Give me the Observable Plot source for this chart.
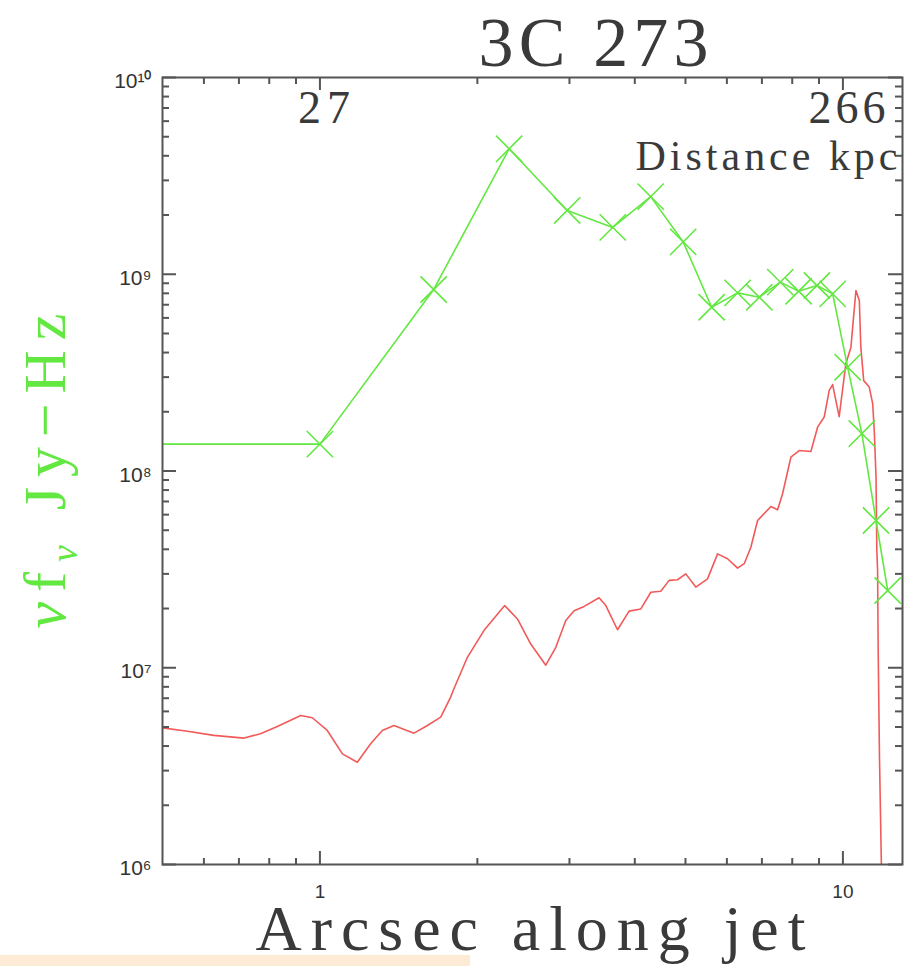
<!DOCTYPE html>
<html><head><meta charset="utf-8">
<script src="https://cdn.jsdelivr.net/npm/d3@7"></script>
<script src="https://cdn.jsdelivr.net/npm/@observablehq/plot@0.6"></script>
<style>html,body{margin:0;padding:0;background:#fff;overflow:hidden}svg{display:block}</style>
</head><body><div id="chart"></div>
<script>
// ---- data ----
const titleText = ["3C 273"];
const xLabelText = ["Arcsec along jet"];
const yLabelText = ["νfν Jy−Hz"];
const topAxisText = ["Distance kpc"];

// green: flux points (arcsec, nu f_nu)
const greenX = [0.3, 1.0, 1.65, 2.30, 2.97, 3.63, 4.29, 4.95, 5.61, 6.29, 6.92, 7.59, 8.23, 8.92, 9.56, 10.21, 10.87, 11.57, 12.18];
const greenY = [1.37e8, 1.37e8, 8.37e8, 4.34e9, 2.11e9, 1.73e9, 2.48e9, 1.46e9, 6.8e8, 8.04e8, 7.64e8, 9.12e8, 8.2e8, 8.77e8, 7.95e8, 3.37e8, 1.55e8, 5.6e7, 2.47e7];

// red: profile along the jet
const redX = [0.500,0.558,0.627,0.716,0.770,0.829,0.919,0.967,1.033,1.104,1.179,1.250,1.316,1.385,1.513,1.605,1.702,1.778,1.804,1.914,2.060,2.256,2.386,2.530,2.703,2.825,2.952,3.062,3.200,3.418,3.521,3.707,3.901,4.108,4.293,4.485,4.653,4.828,5.007,5.233,5.510,5.759,6.018,6.289,6.475,6.668,6.868,7.283,7.501,7.667,7.953,8.249,8.685,8.945,9.209,9.415,9.557,9.837,10.13,10.36,10.48,10.59,10.75,10.82,10.96,11.23,11.40,11.48,11.57,11.61,11.65,11.68,11.75,11.90];
const redY = [4.95e6,4.76e6,4.53e6,4.39e6,4.62e6,5.03e6,5.72e6,5.57e6,4.80e6,3.65e6,3.31e6,4.11e6,4.80e6,5.09e6,4.65e6,5.09e6,5.61e6,7.09e6,7.82e6,1.13e7,1.55e7,2.07e7,1.77e7,1.32e7,1.03e7,1.27e7,1.74e7,1.95e7,2.05e7,2.27e7,2.07e7,1.56e7,1.94e7,1.99e7,2.42e7,2.45e7,2.78e7,2.80e7,3.00e7,2.57e7,2.83e7,3.79e7,3.58e7,3.21e7,3.38e7,4.10e7,5.60e7,6.60e7,6.35e7,7.66e7,1.175e8,1.27e8,1.256e8,1.67e8,1.88e8,2.57e8,2.75e8,1.89e8,3.51e8,4.26e8,6.05e8,8.27e8,7.36e8,4.26e8,2.88e8,2.67e8,2.20e8,1.61e8,9.3e7,3.94e7,3.12e7,1.22e7,3.38e6,5e5];

// ticks
const xMajorTicks = [1, 10];
const xMajorLabels = ["1", "10"];
const xMinorTicks = [0.6, 0.7, 0.8, 0.9, 2, 3, 4, 5, 6, 7, 8, 9];
const kpcTickLabels = ["27", "266"];
const yMajorTicks = [1e6, 1e7, 1e8, 1e9, 1e10];
const yMajorLabels = ["10⁶", "10⁷", "10⁸", "10⁹", "10¹⁰"];
const yDecades = [1e6, 1e7, 1e8, 1e9];
const yMinorMult = [2, 3, 4, 5, 6, 7, 8, 9];

// ---- build tables ----
const green = greenX.map((x, i) => ({x, y: greenY[i]}));
const red = redX.map((x, i) => ({x, y: redY[i]}));
const yMinorTicks = yDecades.flatMap(d => yMinorMult.map(m => d * m));
const xMajor = xMajorTicks.map((x, i) => ({x, label: xMajorLabels[i], kpc: kpcTickLabels[i]}));
const yMajor = yMajorTicks.map((y, i) => ({y, label: yMajorLabels[i]}));

const W = 914, H = 966;
const mL = 162, mR = 12, mT = 77, mB = 102;
const pw = W - mL - mR, ph = H - mT - mB;
const GREEN = "#62e840", RED = "#f25a5a", AX = "#555", INK = "#3a3a3a";
const SERIF = "Liberation Serif, DejaVu Serif, serif";
const SANS = "Liberation Sans, Arial, sans-serif";

const chart = Plot.plot({
  width: W, height: H,
  marginLeft: mL, marginRight: mR, marginTop: mT, marginBottom: mB,
  x: {type: "log", domain: [0.5, 13], axis: null},
  y: {type: "log", domain: [1e6, 1e10], axis: null},
  style: {background: "#fff", fontFamily: SANS},
  marks: [
    Plot.line(red, {x: "x", y: "y", stroke: RED, strokeWidth: 1.6, clip: true}),
    Plot.line(green, {x: "x", y: "y", stroke: GREEN, strokeWidth: 1.6, clip: true}),
    Plot.dot(green, {filter: d => d.x >= 0.5, x: "x", y: "y", symbol: "times", r: 12, stroke: GREEN, strokeWidth: 1.6, clip: true}),
    // ticks: left / right
    Plot.tickY(yMinorTicks, {y: d => d, insetRight: pw - 7, stroke: AX, strokeWidth: 2}),
    Plot.tickY(yMajorTicks, {y: d => d, insetRight: pw - 14, stroke: AX, strokeWidth: 2}),
    Plot.tickY(yMinorTicks, {y: d => d, insetLeft: pw - 7, stroke: AX, strokeWidth: 2}),
    Plot.tickY(yMajorTicks, {y: d => d, insetLeft: pw - 14, stroke: AX, strokeWidth: 2}),
    // ticks: bottom / top
    Plot.tickX(xMinorTicks, {x: d => d, insetTop: ph - 6, stroke: AX, strokeWidth: 2}),
    Plot.tickX(xMajorTicks, {x: d => d, insetTop: ph - 13, stroke: AX, strokeWidth: 2}),
    Plot.tickX(xMinorTicks, {x: d => d, insetBottom: ph - 7, stroke: AX, strokeWidth: 2}),
    Plot.tickX(xMajorTicks, {x: d => d, insetBottom: ph - 13, stroke: AX, strokeWidth: 2}),
    Plot.frame({stroke: AX, strokeWidth: 2}),
    // tick labels
    Plot.text(yMajor, {y: "y", text: "label", frameAnchor: "left", textAnchor: "end", lineAnchor: "middle", dx: -11, dy: 4, fontSize: 21, fill: "#333"}),
    Plot.text(xMajor, {x: "x", text: "label", frameAnchor: "bottom", textAnchor: "middle", lineAnchor: "top", dy: 20, fontSize: 19, fill: "#333"}),
    Plot.text(xMajor, {x: "x", text: "kpc", frameAnchor: "top", textAnchor: "middle", lineAnchor: "top", dy: 13, dx: 4, fontSize: 46, fontFamily: SERIF, fill: INK}),
    Plot.text(topAxisText, {text: d => d, frameAnchor: "top-right", textAnchor: "end", lineAnchor: "top", dx: -5, dy: 63, fontSize: 42, fontFamily: SERIF, fill: INK}),
    // titles
    Plot.text(titleText, {text: d => d, frameAnchor: "top", textAnchor: "middle", lineAnchor: "top", dx: 61, dy: -61, fontSize: 70, fontFamily: SERIF, fill: INK}),
    Plot.text(xLabelText, {text: d => d, frameAnchor: "bottom", textAnchor: "middle", lineAnchor: "top", dx: -2, dy: 40, fontSize: 64, fontFamily: SERIF, fill: INK}),
    Plot.text(yLabelText, {text: d => d, frameAnchor: "left", rotate: -90, textAnchor: "middle", lineAnchor: "middle", dx: -117, dy: 0, fontSize: 60, fontFamily: SERIF, fill: GREEN})
  ]
});

document.getElementById("chart").appendChild(chart);

// widen letter spacing to match the stroke font of the original
const svg = d3.select(chart);
function stretch(content, len) {
  svg.selectAll("text").filter(function () { return this.textContent === content; })
    .attr("textLength", len).attr("lengthAdjust", "spacing");
}
stretch("3C 273", 230);
stretch("Arcsec along jet", 550);
stretch("Distance kpc", 262);
stretch("27", 52);
stretch("266", 77);

// subscript nu in the y label
svg.selectAll("text").filter(function () { return this.textContent === yLabelText[0]; })
  .each(function () {
    const t = d3.select(this);
    t.text(null);
    t.append("tspan").attr("font-style", "italic").text("ν");
    t.append("tspan").text("f");
    t.append("tspan").attr("font-style", "italic").attr("font-size", 38).attr("dy", 12).text("ν");
    t.append("tspan").attr("dy", -12).text(" Jy−Hz");
    t.attr("textLength", 315).attr("lengthAdjust", "spacing");
  });

// faint strip of the slide background at the bottom edge
svg.append("rect").attr("x", 0).attr("y", 955).attr("width", 470).attr("height", 11).attr("fill", "#fdebd6");
</script>
</body></html>
